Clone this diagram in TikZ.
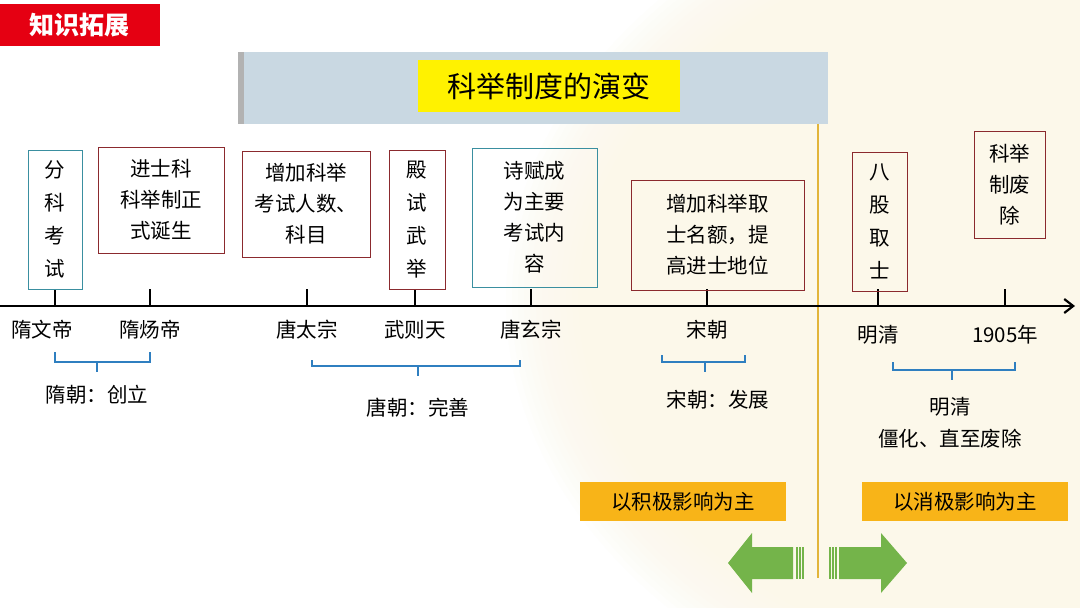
\documentclass[tikz,border=0pt]{standalone}
\usepackage{fontspec}
\setmainfont{Noto Sans CJK SC}
\usetikzlibrary{decorations.pathreplacing,arrows.meta}
\definecolor{cream}{HTML}{FCF8EA}
\definecolor{boxred}{HTML}{8B2A2E}
\definecolor{boxteal}{HTML}{3A8FA0}
\definecolor{tagred}{HTML}{E50012}
\definecolor{barblue}{HTML}{C9D8E2}
\definecolor{gold}{HTML}{E2B53A}
\definecolor{orangebox}{HTML}{F8B418}
\definecolor{arrgreen}{HTML}{74B44A}
\definecolor{braceblue}{HTML}{2F7FC0}
\tikzset{
 ev/.style={draw=#1,line width=0.9pt,align=center,inner sep=0pt,font=\fontsize{20.5}{26}\selectfont},
 lab/.style={font=\fontsize{20.5}{22}\selectfont,anchor=center},
 tk/.style={line width=1.6pt},
 br/.style={draw=braceblue,line width=1.2pt},
 ob/.style={fill=orangebox,font=\fontsize{20.5}{22}\selectfont,minimum width=206pt,minimum height=39pt,inner sep=0pt}
}
\begin{document}
\begin{tikzpicture}[x=1pt,y=-1pt]
\useasboundingbox (0,0) rectangle (1080,608);
\fill[white] (0,0) rectangle (1080,608);
\begin{scope}
\clip (0,0) rectangle (1080,608);
\foreach \i in {0,...,14}{
 \fill[cream,opacity=0.12] (1150,300) ellipse ({560+6*\i} and {380+6*\i});
}
\end{scope}
% tag
\node[fill=tagred,text=white,font=\fontsize{25}{26}\bfseries\selectfont,minimum width=160pt,minimum height=42pt,inner sep=0pt] (tag) at (80,25) {知识拓展};
% title bar
\fill[barblue] (238,52) rectangle (828,124);
\fill[gray!60] (238,52) rectangle (244,124);
\node[fill=yellow,font=\fontsize{29}{30}\selectfont,minimum width=262pt,minimum height=52pt,inner sep=0pt] (title) at (549,86) {科举制度的演变};
% gold line
\coordinate (gt) at (818,124); \coordinate (gb) at (818,578);
\draw[gold,line width=2pt] (gt) -- (gb);
% timeline
\coordinate (L0) at (0,306); \coordinate (L1) at (1075,306);
\draw[line width=2.2pt,-{Straight Barb[length=9pt,width=14pt]}] (L0) -- (L1);
\foreach \n/\x in {a/55,b/150,c/307,d/415,e/531,f/707,g/878,h/1005}{
 \coordinate (t\n) at (\x,306); \coordinate (u\n) at (\x,289);
 \draw[tk] (t\n) -- (u\n);
}
% boxes
\node[ev=boxteal,minimum width=54pt,minimum height=139pt,font=\fontsize{20.5}{33}\selectfont] (b1) at (55,219.5) {分\\科\\考\\试};
\node[ev=boxred,minimum width=126pt,minimum height=106pt,font=\fontsize{20.5}{31}\selectfont] (b2) at (161,200) {进士科\\科举制正\\式诞生};
\node[ev=boxred,minimum width=128pt,minimum height=106pt,font=\fontsize{20.5}{31}\selectfont] (b3) at (306,204) {增加科举\\考试人数、\\科目};
\node[ev=boxred,minimum width=56pt,minimum height=139pt,font=\fontsize{20.5}{33}\selectfont] (b4) at (417,219.5) {殿\\试\\武\\举};
\node[ev=boxteal,minimum width=125pt,minimum height=139pt,font=\fontsize{20.5}{31}\selectfont] (b5) at (534.5,217.5) {诗赋成\\为主要\\考试内\\容};
\node[ev=boxred,minimum width=173pt,minimum height=110pt,font=\fontsize{20.5}{31}\selectfont] (b6) at (717.5,235) {增加科举取\\士名额，提\\高进士地位};
\node[ev=boxred,minimum width=55pt,minimum height=139pt,font=\fontsize{20.5}{33}\selectfont] (b7) at (879.5,221.5) {八\\股\\取\\士};
\node[ev=boxred,minimum width=71pt,minimum height=107pt,font=\fontsize{20.5}{31}\selectfont] (b8) at (1009.5,184.5) {科举\\制废\\除};
% labels
\node[lab] (l1) at (42,330) {隋文帝};
\node[lab] (l2) at (150,330) {隋炀帝};
\node[lab] (l3) at (307,330) {唐太宗};
\node[lab] (l4) at (415,330) {武则天};
\node[lab] (l5) at (531,330) {唐玄宗};
\node[lab] (l6) at (707,330) {宋朝};
\node[lab] (l7) at (878,335) {明清};
\node[lab] (l8) at (1005,335) {1905年};
% braces
\draw[br] (55,352) -- (55,362) -- (150,362) -- (150,352);
\draw[br] (97,362) -- (97,372);
\node[lab] (s1) at (97,395) {隋朝：创立};
\draw[br] (312,360) -- (312,366) -- (520,366) -- (520,360);
\draw[br] (418,366) -- (418,376);
\node[lab] (s2) at (418,408) {唐朝：完善};
\draw[br] (662,355) -- (662,362) -- (745,362) -- (745,355);
\draw[br] (705,362) -- (705,372);
\node[lab] (s3) at (718,400) {宋朝：发展};
\draw[br] (893,362) -- (893,370) -- (1015,370) -- (1015,362);
\draw[br] (952,370) -- (952,380);
\node[lab,align=center,font=\fontsize{20.5}{32}\selectfont] (s4) at (950,423) {明清\\僵化、直至废除};
% orange boxes
\node[ob] (o1) at (683,501.5) {以积极影响为主};
\node[ob] (o2) at (965,501.5) {以消极影响为主};
% green arrows
\fill[arrgreen] (728,563) -- (752,533) -- (752,547) -- (793,547) -- (793,579) -- (752,579) -- (752,593) -- cycle;
\foreach \x in {796,799,802}{\fill[arrgreen] (\x,547) rectangle (\x+1.5,579);}
\fill[arrgreen] (907,563) -- (881,533) -- (881,547) -- (839,547) -- (839,579) -- (881,579) -- (881,593) -- cycle;
\foreach \x in {829,832,835}{\fill[arrgreen] (\x,547) rectangle (\x+1.5,579);}
\end{tikzpicture}
\end{document}
